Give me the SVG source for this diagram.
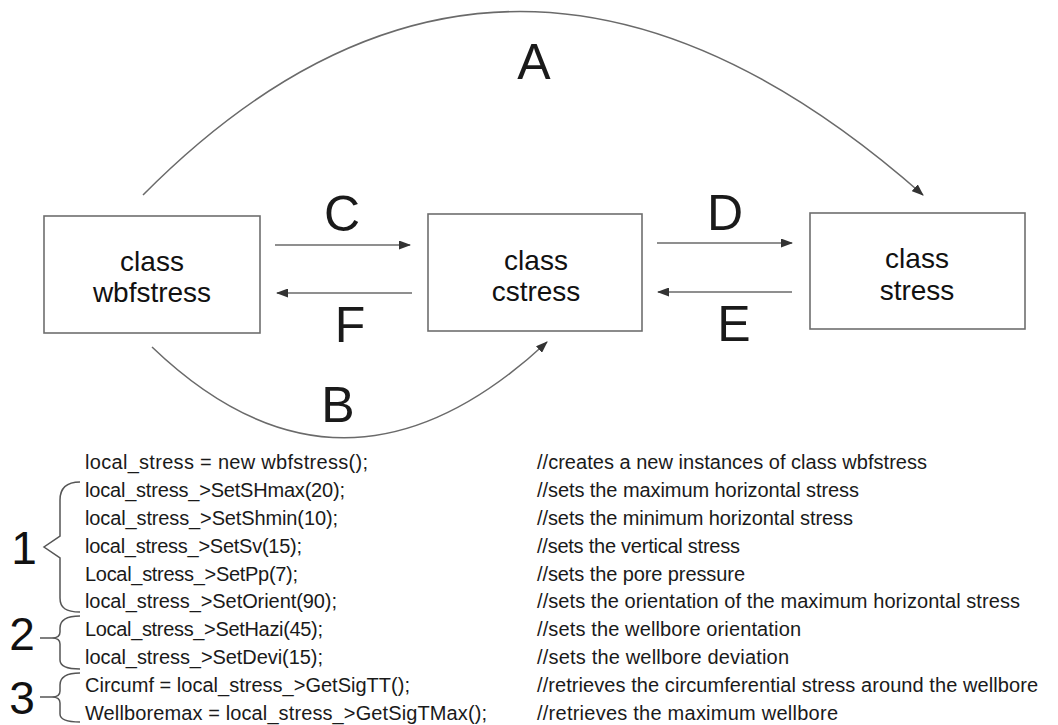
<svg xmlns="http://www.w3.org/2000/svg" width="1058" height="725" viewBox="0 0 1058 725">
<style>
.box{fill:#fff;stroke:#6e6e6e;stroke-width:1.6}
.cls{font-family:"Liberation Sans",Arial,sans-serif;font-size:28px;fill:#111;text-anchor:middle}
.conn{fill:none;stroke:#6a6a6a;stroke-width:1.5}
.lbl{font-family:"Liberation Sans",Arial,sans-serif;font-size:50px;fill:#1a1a1a;text-anchor:middle}
.code{font-family:"Liberation Sans",Arial,sans-serif;font-size:20px;fill:#1a1a1a}
.brace{fill:none;stroke:#555;stroke-width:1.5}
.num{font-family:"Liberation Sans",Arial,sans-serif;font-size:46px;fill:#111;text-anchor:middle}
</style>
<defs>
<marker id="ah" markerUnits="userSpaceOnUse" markerWidth="12" markerHeight="9" refX="11" refY="4.5" orient="auto">
<path d="M0,0 L12,4.5 L0,9 z" fill="#333"/>
</marker>
</defs>
<rect width="1058" height="725" fill="#fff"/>

<g id="connectors">
<path id="edge-A" class="conn" d="M143,195 Q507,-172 923,195" marker-end="url(#ah)"/>
<path id="edge-B" class="conn" d="M152,347 Q344,531 547,342" marker-end="url(#ah)"/>
<path id="edge-C" class="conn" d="M275,245 L410,245" marker-end="url(#ah)"/>
<path id="edge-F" class="conn" d="M412,293 L277,293" marker-end="url(#ah)"/>
<path id="edge-D" class="conn" d="M657,243 L792,243" marker-end="url(#ah)"/>
<path id="edge-E" class="conn" d="M792,292 L658,292" stroke="#888" marker-end="url(#ah)"/>
<text class="lbl" x="534" y="79">A</text>
<text class="lbl" x="338" y="422">B</text>
<text class="lbl" x="342" y="231">C</text>
<text class="lbl" x="725" y="230">D</text>
<text class="lbl" x="734" y="341">E</text>
<text class="lbl" x="350" y="342">F</text>
</g>

<g id="node-wbfstress">
<rect class="box" x="44" y="216" width="216" height="117"/>
<text class="cls" x="152" y="271">class</text>
<text class="cls" x="152" y="302">wbfstress</text>
</g>
<g id="node-cstress">
<rect class="box" x="428" y="214" width="214" height="117"/>
<text class="cls" x="536" y="270">class</text>
<text class="cls" x="536" y="301">cstress</text>
</g>
<g id="node-stress">
<rect class="box" x="810" y="213" width="215" height="116"/>
<text class="cls" x="917" y="268">class</text>
<text class="cls" x="917" y="300">stress</text>
</g>

<g id="code">
<text class="code" x="85" y="469" textLength="283" lengthAdjust="spacing">local_stress  =  new wbfstress();</text>
<text class="code" x="85" y="497" textLength="260" lengthAdjust="spacing">local_stress_&gt;SetSHmax(20);</text>
<text class="code" x="85" y="525" textLength="253" lengthAdjust="spacing">local_stress_&gt;SetShmin(10);</text>
<text class="code" x="85" y="553" textLength="217" lengthAdjust="spacing">local_stress_&gt;SetSv(15);</text>
<text class="code" x="85" y="581" textLength="213" lengthAdjust="spacing">Local_stress_&gt;SetPp(7);</text>
<text class="code" x="85" y="608" textLength="252" lengthAdjust="spacing">local_stress_&gt;SetOrient(90);</text>
<text class="code" x="85" y="636" textLength="238" lengthAdjust="spacing">Local_stress_&gt;SetHazi(45);</text>
<text class="code" x="85" y="664" textLength="238" lengthAdjust="spacing">local_stress_&gt;SetDevi(15);</text>
<text class="code" x="85" y="692" textLength="325" lengthAdjust="spacing">Circumf = local_stress_&gt;GetSigTT();</text>
<text class="code" x="85" y="720" textLength="402" lengthAdjust="spacing">Wellboremax = local_stress_&gt;GetSigTMax();</text>
</g>

<g id="comments">
<text class="code" x="537" y="469" textLength="390" lengthAdjust="spacing">//creates a new instances of class wbfstress</text>
<text class="code" x="537" y="497" textLength="322" lengthAdjust="spacing">//sets the maximum horizontal stress</text>
<text class="code" x="537" y="525" textLength="316" lengthAdjust="spacing">//sets the minimum horizontal stress</text>
<text class="code" x="537" y="553" textLength="203" lengthAdjust="spacing">//sets the vertical stress</text>
<text class="code" x="537" y="581" textLength="208" lengthAdjust="spacing">//sets the pore pressure</text>
<text class="code" x="537" y="608" textLength="483" lengthAdjust="spacing">//sets the orientation of the maximum horizontal stress</text>
<text class="code" x="537" y="636" textLength="264" lengthAdjust="spacing">//sets the wellbore orientation</text>
<text class="code" x="537" y="664" textLength="252" lengthAdjust="spacing">//sets the wellbore deviation</text>
<text class="code" x="537" y="692" textLength="501" lengthAdjust="spacing">//retrieves the circumferential stress around the wellbore</text>
<text class="code" x="537" y="720" textLength="301" lengthAdjust="spacing">//retrieves the maximum wellbore</text>
</g>

<g id="groups">
<path class="brace" d="M80,482 C66,482 60,488 60,500 L60,536 L44,547 L60,558 L60,598 C60,608 66,612 80,612"/>
<path class="brace" d="M80,616 C66,616 60,621 60,628 L60,632 Q60,638 52,638 L40,638 M52,638 Q60,638 60,644 L60,660 C60,666 66,669 80,669"/>
<path class="brace" d="M80,673 C66,673 60,678 60,685 L60,691 Q60,697 52,697 L40,697 M52,697 Q60,697 60,703 L60,714 C60,719 66,722 80,722"/>
<text class="num" x="24" y="564">1</text>
<text class="num" x="22" y="650">2</text>
<text class="num" x="22" y="714">3</text>
</g>
</svg>
